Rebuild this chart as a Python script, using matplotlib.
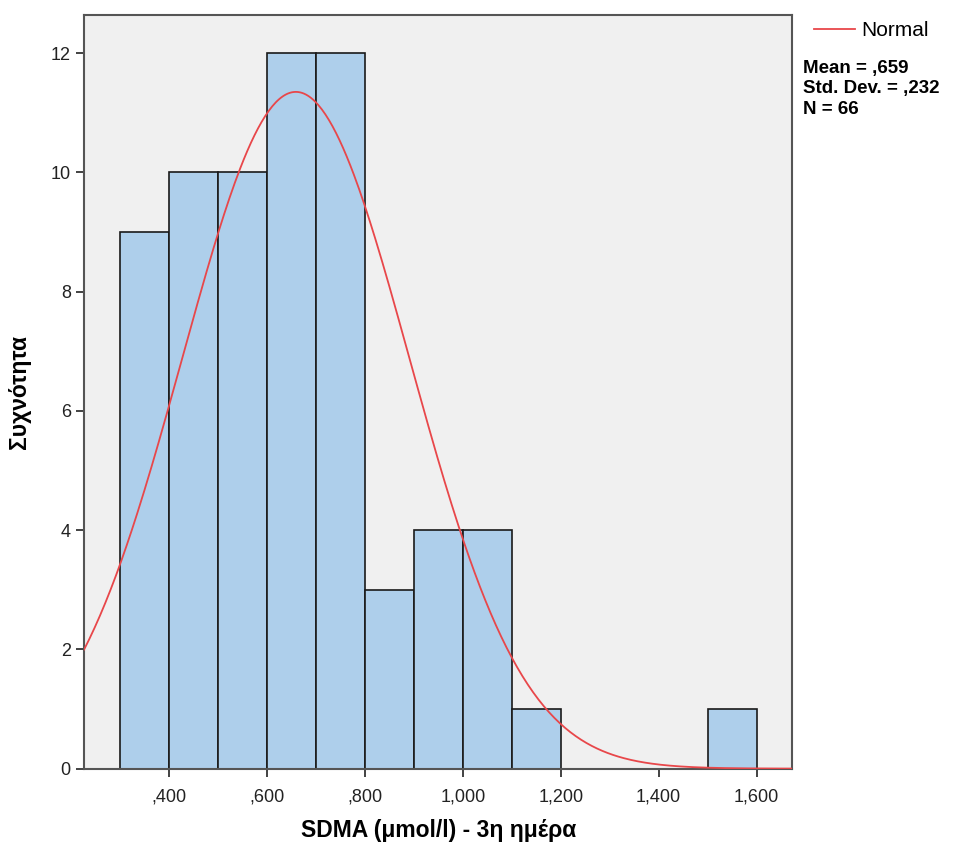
import numpy as np
import matplotlib
matplotlib.use("Agg")
import matplotlib.pyplot as plt
from matplotlib.ticker import FixedLocator

plt.rcParams['font.family'] = ['Liberation Sans', 'DejaVu Sans']

# bins of SDMA (umol/l), day 3
bin_edges = [0.3, 0.4, 0.5, 0.6, 0.7, 0.8, 0.9, 1.0, 1.1, 1.2, 1.3, 1.4, 1.5, 1.6]
counts = [9, 10, 10, 12, 12, 3, 4, 4, 1, 0, 0, 0, 1]
mean = 0.659
std = 0.232
n = 66

x_ticks = [0.4, 0.6, 0.8, 1.0, 1.2, 1.4, 1.6]
x_labels = [",400", ",600", ",800", "1,000", "1,200", "1,400", "1,600"]
y_ticks = [0, 2, 4, 6, 8, 10, 12]

fig = plt.figure(figsize=(9.75, 8.48), dpi=100)
ax = fig.add_axes([0.0862, 0.0936, 0.7264, 0.8888])
ax.set_facecolor("#f0f0f0")

lefts = np.array(bin_edges[:-1])
widths = np.diff(bin_edges)
for l, w, c in zip(lefts, widths, counts):
    if c > 0:
        ax.bar(l, c, width=w, align="edge", color="#aecfeb",
               edgecolor="#1a1a1a", linewidth=1.2, zorder=2)

xmin, xmax = 0.2264, 1.673
xs = np.linspace(xmin, xmax, 400)
bw = 0.1
ys = n * bw / (std * np.sqrt(2 * np.pi)) * np.exp(-0.5 * ((xs - mean) / std) ** 2)
line, = ax.plot(xs, ys, color="#e8474a", linewidth=1.3, zorder=3, label="Normal")

ax.set_xlim(xmin, xmax)
ax.set_ylim(0, 12.64)
ax.xaxis.set_major_locator(FixedLocator(x_ticks))
ax.set_xticklabels(x_labels)
ax.set_yticks(y_ticks)
ax.tick_params(axis="both", direction="out", length=6, width=1.2,
               color="#222222", labelsize=13, labelcolor="#222222")
ax.tick_params(axis="x", pad=8)
for s in ax.spines.values():
    s.set_color("#555555")
    s.set_linewidth(1.5)

ax.set_xlabel("SDMA (μmol/l) - 3η ημέρα", fontsize=16.5, fontweight="bold", labelpad=10)
ax.set_ylabel("Συχνότητα", fontsize=16.5, fontweight="bold", labelpad=14)

fig.legend(handles=[line], labels=["Normal"], loc="upper left",
           bbox_to_anchor=(0.826, 0.985), frameon=False, fontsize=15,
           handlelength=2.0, handletextpad=0.3, borderaxespad=0)
fig.text(0.824, 0.929, "Mean = ,659\nStd. Dev. = ,232\nN = 66",
         fontsize=13.5, fontweight="bold", va="top", ha="left", linespacing=1.25)

fig.savefig("out.png", dpi=100)
